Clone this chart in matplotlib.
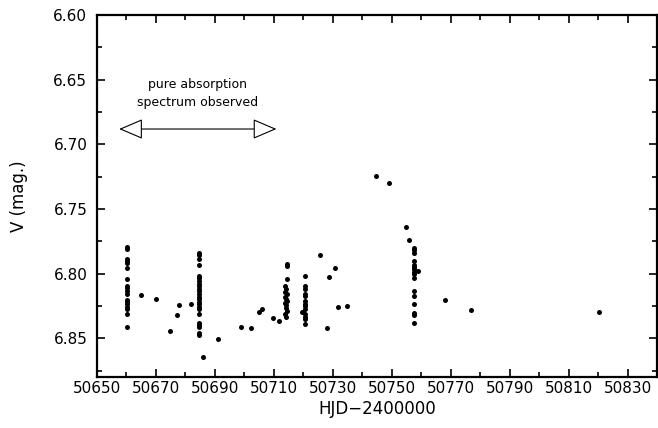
import numpy as np
import matplotlib
matplotlib.use('Agg')
import matplotlib.pyplot as plt
from matplotlib.patches import FancyArrowPatch
from matplotlib.ticker import MultipleLocator, FormatStrFormatter

# photometry: (HJD-2400000, V)
hjd_1 = [50660.3] * 18
mag_1 = [6.7792, 6.7810, 6.7885, 6.7904, 6.7921, 6.7955, 6.8045, 6.8096, 6.8114,
         6.8135, 6.8160, 6.8204, 6.8220, 6.8238, 6.8255, 6.8276, 6.8315, 6.8417]

hjd_2 = [50684.6] * 24
mag_2 = [6.7839, 6.7857, 6.7890, 6.7937, 6.8019, 6.8037, 6.8058, 6.8078, 6.8096,
         6.8116, 6.8135, 6.8155, 6.8181, 6.8199, 6.8220, 6.8238, 6.8258, 6.8276,
         6.8315, 6.8379, 6.8397, 6.8417, 6.8456, 6.8474]

hjd_3 = [50714.6, 50714.6, 50714.4, 50713.8, 50714.2, 50713.9, 50714.3, 50713.7,
         50714.1, 50714.4, 50713.8, 50714.2, 50714.0, 50714.3, 50713.9, 50714.2]
mag_3 = [6.7929, 6.7945, 6.8040, 6.8100, 6.8120, 6.8140, 6.8160, 6.8180, 6.8195,
         6.8210, 6.8225, 6.8245, 6.8265, 6.8290, 6.8315, 6.8336]

hjd_4 = [50720.5] * 13 + [50719.7]
mag_4 = [6.8019, 6.8096, 6.8116, 6.8155, 6.8174, 6.8212, 6.8233, 6.8251, 6.8271,
         6.8315, 6.8336, 6.8353, 6.8392, 6.8297]

hjd_5 = [50757.5] * 16 + [50758.9]
mag_5 = [6.7800, 6.7819, 6.7839, 6.7904, 6.7934, 6.7950, 6.7968, 6.8037, 6.8135,
         6.8174, 6.8238, 6.8302, 6.8320, 6.8379, 6.7985, 6.8000, 6.7981]

hjd_single = [50664.9, 50670.0, 50677.7, 50677.0, 50674.8, 50681.9, 50686.0,
              50690.9, 50699.0, 50702.1, 50704.8, 50705.9, 50709.8, 50711.9,
              50725.7, 50730.7, 50728.8, 50731.8, 50734.8, 50727.9,
              50744.8, 50749.0, 50755.0, 50755.9, 50768.0, 50777.0, 50820.2]
mag_single = [6.8168, 6.8194, 6.8245, 6.8317, 6.8448, 6.8238, 6.8649,
              6.8508, 6.8410, 6.8420, 6.8297, 6.8276, 6.8340, 6.8366,
              6.7857, 6.7960, 6.8027, 6.8258, 6.8248, 6.8425,
              6.7248, 6.7299, 6.7638, 6.7741, 6.8207, 6.8279, 6.8294]

hjd = np.concatenate([hjd_1, hjd_2, hjd_3, hjd_4, hjd_5, hjd_single])
mag = np.concatenate([mag_1, mag_2, mag_3, mag_4, mag_5, mag_single])

fig = plt.figure(figsize=(6.58, 4.28), dpi=100)
ax = fig.add_axes([0.1474, 0.1192, 0.8511, 0.8458])

ax.plot(hjd, mag, 'ko', markersize=3.6, markeredgewidth=0)

ax.set_xlim(50650, 50840)
ax.set_ylim(6.88, 6.60)

# labelled ticks at 50650, 50670, ... with minor ticks in between
ax.xaxis.set_major_locator(MultipleLocator(20, offset=10))
ax.xaxis.set_minor_locator(MultipleLocator(10))
ax.yaxis.set_major_locator(MultipleLocator(0.05))
ax.yaxis.set_minor_locator(MultipleLocator(0.025))
ax.yaxis.set_major_formatter(FormatStrFormatter('%.2f'))
ax.tick_params(which='both', direction='in', top=True, right=True,
               labelsize=11, width=1.2)
ax.tick_params(axis='y', pad=7)
ax.tick_params(axis='x', pad=3)
ax.tick_params(which='major', length=6)
ax.tick_params(which='minor', length=3.5)
for s in ax.spines.values():
    s.set_linewidth(1.6)

ax.set_xlabel('HJD\u22122400000', fontsize=12, labelpad=3)
ax.set_ylabel('V (mag.)', fontsize=12, labelpad=18)

# double arrow marking the absorption-only interval
arr = FancyArrowPatch((50657.5, 6.6882), (50710.9, 6.6882),
                      arrowstyle='<|-|>,head_length=0.75,head_width=0.32',
                      mutation_scale=20, fc='white', ec='black', lw=0.8,
                      shrinkA=0, shrinkB=0)
ax.add_patch(arr)
ax.text(50684.2, 6.661, 'pure absorption\nspectrum observed', ha='center',
        va='center', fontsize=9, linespacing=1.5)

fig.savefig('out.png', dpi=100)
